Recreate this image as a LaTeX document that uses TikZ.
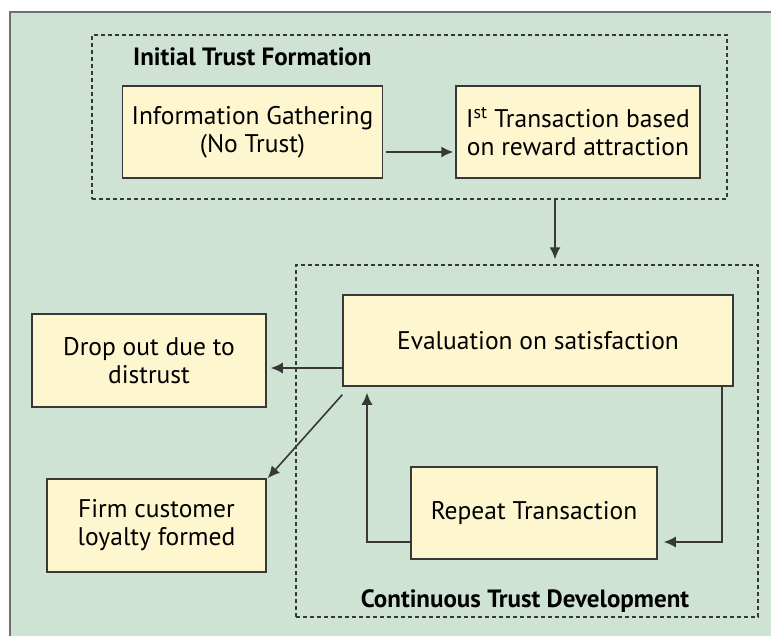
\documentclass[tikz,border=0pt]{standalone}
\usepackage{fontspec}
\setmainfont{PT Sans}
\usetikzlibrary{arrows.meta,calc}
\definecolor{bggreen}{HTML}{CFE3D4}
\definecolor{boxfill}{HTML}{FDF6CE}
\definecolor{edge}{HTML}{383838}
\definecolor{frame}{HTML}{707070}
\tikzset{
  stepbox/.style={draw=edge, line width=1.5pt, fill=boxfill, inner sep=0pt, align=center,
    font=\fontsize{25.5}{28}\selectfont, text=black},
  groupbox/.style={draw=edge, line width=1.4pt, dash pattern=on 4pt off 3pt, inner sep=0pt},
  grouplabel/.style={font=\fontsize{25}{28}\selectfont\bfseries, inner sep=0pt, text=black},
  arr/.style={draw=edge, line width=1.6pt, -{Latex[length=12pt,width=11pt]}}
}
\begin{document}
\begin{tikzpicture}[x=1pt,y=-1pt]
\useasboundingbox (0,0) rectangle (771,636);
\fill[white] (0,0) rectangle (771,636);
\fill[bggreen] (10,12) rectangle (771,636);
\draw[frame, line width=1.6pt] (10,636) -- (10,12) -- (771,12);

% group boxes
\node[groupbox, minimum width=635pt, minimum height=164pt] (t1) at (409.5,117) {};
\node[groupbox, minimum width=462pt, minimum height=352pt] (t2) at (527,441) {};
\node[grouplabel, anchor=west] (l1) at (133,57) {Initial Trust Formation};
\node[grouplabel] (l2) at (525,601) {Continuous Trust Development};

% step boxes
\node[stepbox, minimum width=260pt, minimum height=92pt] (A) at (252.5,132) {Information Gathering\\(No Trust)};
\node[stepbox, minimum width=244pt, minimum height=92pt] (B) at (578,132) {I\textsuperscript{st} Transaction based\\on reward attraction};
\node[stepbox, minimum width=390pt, minimum height=91pt] (C) at (538,340.5) {Evaluation on satisfaction};
\node[stepbox, minimum width=234pt, minimum height=93pt] (D) at (149,360.5) {Drop out due to\\distrust};
\node[stepbox, minimum width=219pt, minimum height=93pt] (E) at (156.5,525.5) {Firm customer\\loyalty formed};
\node[stepbox, minimum width=246pt, minimum height=92pt] (F) at (534,513) {Repeat Transaction};

% helper coordinates
\coordinate (xd) at (555,0);
\coordinate (dE) at ([xshift=4pt]D.east);
\coordinate (xL) at (367,0);
\coordinate (xR) at (722,0);

% connectors
\draw[arr] ([xshift=3pt,yshift=-20pt]A.east) -- ([xshift=-2pt,yshift=-20pt]B.west);
\draw[arr] (t1.south -| xd) -- ([yshift=5pt]t2.north -| xd);
\draw[arr] ([yshift=-27.5pt]C.west) -- ([yshift=-27.5pt]C.west -| dE);
\draw[arr] ([yshift=-8pt]C.south west) -- ([xshift=1pt]E.north east);
\draw[arr] ([yshift=-29pt]F.west) -| ([yshift=-6pt]C.south -| xL);
\draw[arr] (C.south -| xR) |- ([xshift=6pt,yshift=-29pt]F.east);
\end{tikzpicture}
\end{document}
